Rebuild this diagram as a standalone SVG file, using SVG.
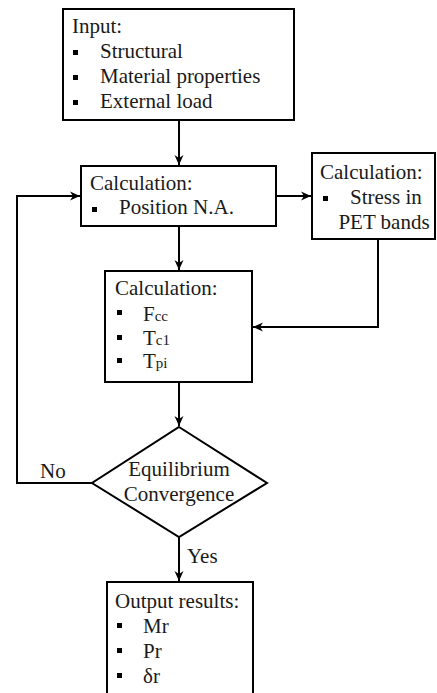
<svg xmlns="http://www.w3.org/2000/svg" width="437" height="693" viewBox="0 0 437 693">
<style>
.box{fill:#fff;stroke:#000;stroke-width:2}
.t{font-family:'Liberation Serif','Times New Roman',serif;font-size:21px;fill:#1a1a1a}
.c{text-anchor:middle}
.b{fill:#000}
.ln{fill:none;stroke:#000;stroke-width:2}
.s{font-size:15px}
</style>
<defs>
<marker id="ah" markerUnits="userSpaceOnUse" markerWidth="11" markerHeight="10" refX="10" refY="5" orient="auto">
<path d="M0,0.5 L10,5 L0,9.5 L3,5 z" fill="#000"/>
</marker>
</defs>
<rect width="437" height="693" fill="#fff"/>
<g id="connectors">
<line class="ln" x1="179" y1="120" x2="179" y2="165" marker-end="url(#ah)"/>
<line class="ln" x1="276" y1="196" x2="311" y2="196" marker-end="url(#ah)"/>
<line class="ln" x1="179" y1="226" x2="179" y2="270" marker-end="url(#ah)"/>
<polyline class="ln" points="378,239 378,327 253,327" marker-end="url(#ah)"/>
<line class="ln" x1="179" y1="382" x2="179" y2="426" marker-end="url(#ah)"/>
<polyline class="ln" points="92,483 17,483 17,196 80,196" marker-end="url(#ah)"/>
<line class="ln" x1="179" y1="537" x2="179" y2="581" marker-end="url(#ah)"/>
<text class="t" x="40" y="478">No</text>
<text class="t" x="187" y="563">Yes</text>
</g>
<g id="input">
<rect class="box" x="63" y="9" width="231" height="111"/>
<text class="t" x="72" y="33">Input:</text>
<rect class="b" x="73" y="50" width="5" height="5"/>
<rect class="b" x="73" y="75" width="5" height="5"/>
<rect class="b" x="73" y="100" width="5" height="5"/>
<text class="t" x="100" y="58">Structural</text>
<text class="t" x="100" y="83">Material properties</text>
<text class="t" x="100" y="108">External load</text>
</g>
<g id="calc-na">
<rect class="box" x="81" y="166" width="195" height="60"/>
<text class="t" x="90" y="190">Calculation:</text>
<rect class="b" x="92" y="207" width="5" height="5"/>
<text class="t" x="119" y="214">Position N.A.</text>
</g>
<g id="calc-pet">
<rect class="box" x="312" y="153" width="123" height="86"/>
<text class="t" x="320" y="179">Calculation:</text>
<rect class="b" x="323" y="196" width="5" height="5"/>
<text class="t" x="350" y="204">Stress in</text>
<text class="t c" x="384" y="229">PET bands</text>
</g>
<g id="calc-forces">
<rect class="box" x="105" y="271" width="147" height="111"/>
<text class="t" x="115" y="295">Calculation:</text>
<rect class="b" x="117" y="310" width="5" height="5"/>
<rect class="b" x="117" y="335" width="5" height="5"/>
<rect class="b" x="117" y="358" width="5" height="5"/>
<text class="t" x="143" y="321">F<tspan class="s">cc</tspan></text>
<text class="t" x="143" y="345">T<tspan class="s">c1</tspan></text>
<text class="t" x="143" y="368">T<tspan class="s">pi</tspan></text>
</g>
<g id="decision">
<polygon class="box" points="179,427 267,483 179,537 92,483"/>
<text class="t c" x="179" y="476">Equilibrium</text>
<text class="t c" x="179" y="501">Convergence</text>
</g>
<g id="output">
<rect class="box" x="107" y="582" width="146" height="115"/>
<text class="t" x="115" y="608">Output results:</text>
<rect class="b" x="117" y="623" width="5" height="5"/>
<rect class="b" x="117" y="648" width="5" height="5"/>
<rect class="b" x="117" y="673" width="5" height="5"/>
<text class="t" x="143" y="633">Mr</text>
<text class="t" x="143" y="658">Pr</text>
<text class="t" x="143" y="683">δr</text>
</g>
</svg>
